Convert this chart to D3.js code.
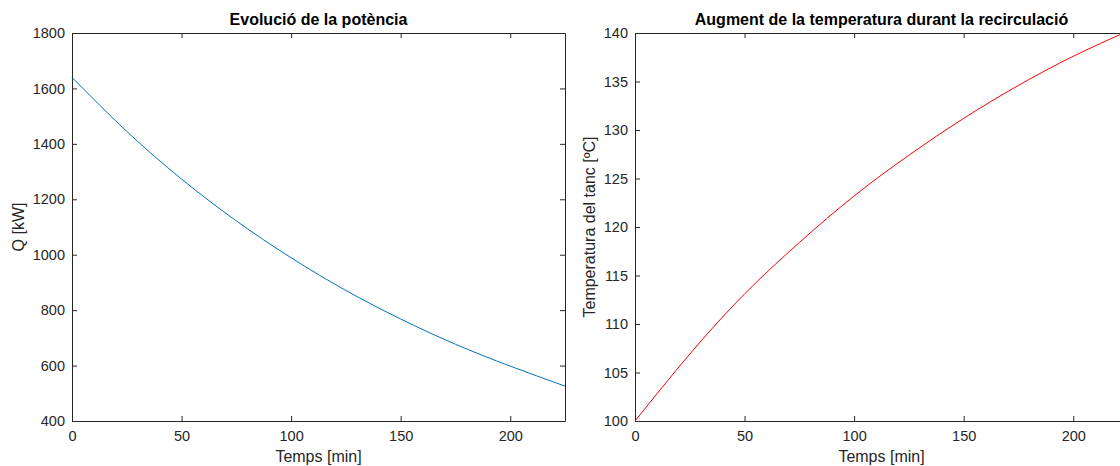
<!DOCTYPE html>
<html>
<head>
<meta charset="utf-8">
<script src="https://cdn.jsdelivr.net/npm/d3@7"></script>
<style>
  html, body { margin: 0; padding: 0; background: #fff; overflow: hidden; }
  svg { display: block; }
</style>
</head>
<body>
<div id="chart"></div>
<script>
// values
const tMin = [0, 25, 50, 75, 100, 125, 150, 175, 200, 225];
const power = [1640, 1445, 1273, 1122, 989, 871, 768, 677, 598, 526];
const temp = [100, 106.9, 113.1, 118.4, 123.2, 127.4, 131.2, 134.6, 137.6, 140.2];

const xTicks = [0, 50, 100, 150, 200];
const powerTicks = [400, 600, 800, 1000, 1200, 1400, 1600, 1800];
const tempTicks = [100, 105, 110, 115, 120, 125, 130, 135, 140];

const W = 1120, H = 466;
const axisColor = '#262626';
const font = '"Liberation Sans", Arial, Helvetica, sans-serif';

const svg = d3.select('#chart')
    .append('svg')
    .attr('width', W)
    .attr('height', H);

const drawPanel = ({ x0, x1, y0, y1, yDomain, yTicks, series, color, title, yLabel, labelX }) => {
    const xScale = d3.scaleLinear().domain([0, 225]).range([x0, x1]);
    const yScale = d3.scaleLinear().domain(yDomain).range([y1, y0]);
    const fmt = d3.format('d');

    const g = svg.append('g');

    const styleAxis = (sel) => {
        sel.attr('font-family', font).attr('font-size', 14.5);
        sel.selectAll('path').attr('stroke', axisColor);
        sel.selectAll('line').attr('stroke', axisColor);
        sel.selectAll('text').attr('fill', axisColor);
    };

    // bottom + top
    g.append('g')
        .attr('transform', `translate(0, ${y1})`)
        .call(d3.axisBottom(xScale).tickValues(xTicks).tickFormat(fmt)
            .tickSizeInner(-5).tickSizeOuter(0).tickPadding(10))
        .call(styleAxis);
    g.append('g')
        .attr('transform', `translate(0, ${y0})`)
        .call(d3.axisTop(xScale).tickValues(xTicks).tickSizeInner(-5).tickSizeOuter(0).tickFormat(''))
        .call(styleAxis);
    // left + right
    g.append('g')
        .attr('transform', `translate(${x0}, 0)`)
        .call(d3.axisLeft(yScale).tickValues(yTicks).tickFormat(fmt)
            .tickSizeInner(-5).tickSizeOuter(0).tickPadding(7))
        .call(styleAxis);
    g.append('g')
        .attr('transform', `translate(${x1}, 0)`)
        .call(d3.axisRight(yScale).tickValues(yTicks).tickSizeInner(-5).tickSizeOuter(0).tickFormat(''))
        .call(styleAxis);

    // data curve
    const line = d3.line()
        .x((d, i) => xScale(tMin[i]))
        .y(d => yScale(d))
        .curve(d3.curveNatural);
    g.append('path')
        .datum(series)
        .attr('fill', 'none')
        .attr('stroke', color)
        .attr('stroke-width', 1)
        .attr('d', line);

    // title
    g.append('text')
        .attr('x', (x0 + x1) / 2)
        .attr('y', 25)
        .attr('text-anchor', 'middle')
        .attr('font-family', font)
        .attr('font-size', 16)
        .attr('font-weight', 'bold')
        .attr('fill', '#000')
        .text(title);

    // x label
    g.append('text')
        .attr('x', (x0 + x1) / 2)
        .attr('y', 462)
        .attr('text-anchor', 'middle')
        .attr('font-family', font)
        .attr('font-size', 16)
        .attr('fill', axisColor)
        .text('Temps [min]');

    // y label
    g.append('text')
        .attr('transform', `translate(${labelX}, ${(y0 + y1) / 2}) rotate(-90)`)
        .attr('text-anchor', 'middle')
        .attr('font-family', font)
        .attr('font-size', 16)
        .attr('fill', axisColor)
        .text(yLabel);
};

drawPanel({
    x0: 72, x1: 565, y0: 33, y1: 421,
    yDomain: [400, 1800], yTicks: powerTicks,
    series: power, color: '#0072BD',
    title: 'Evolució de la potència',
    yLabel: 'Q [kW]', labelX: 24
});

drawPanel({
    x0: 635, x1: 1128, y0: 33, y1: 421,
    yDomain: [100, 140], yTicks: tempTicks,
    series: temp, color: '#FF0000',
    title: 'Augment de la temperatura durant la recirculació',
    yLabel: 'Temperatura del tanc [ºC]', labelX: 595
});
</script>
</body>
</html>
